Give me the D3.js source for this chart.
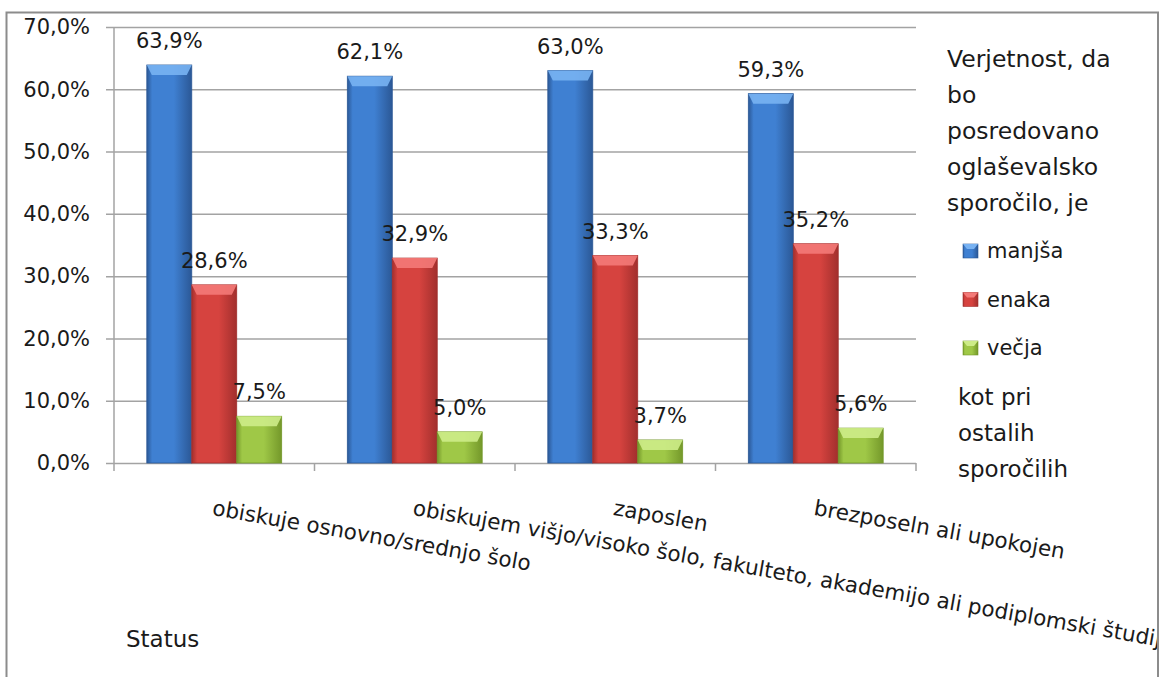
<!DOCTYPE html>
<html><head><meta charset="utf-8">
<script src="https://cdn.jsdelivr.net/npm/d3@7/dist/d3.min.js"></script>
<style>
html,body{margin:0;padding:0;background:#fff;}
svg{display:block;font-family:"DejaVu Sans",sans-serif;}
</style></head>
<body>
<svg id="chart" width="1165" height="677"></svg>
<script>
const categories = ["obiskuje osnovno/srednjo šolo", "obiskujem višjo/visoko šolo, fakulteto, akademijo ali podiplomski študij", "zaposlen", "brezposeln ali upokojen"];
const seriesNames = ["manjša", "enaka", "večja"];
const manjsa = [63.9, 62.1, 63.0, 59.3];
const enaka = [28.6, 32.9, 33.3, 35.2];
const vecja = [7.5, 5.0, 3.7, 5.6];
const yTicks = [0, 10, 20, 30, 40, 50, 60, 70];
const legendTitle = ["Verjetnost, da", "bo", "posredovano", "oglaševalsko", "sporočilo, je"];
const legendFooter = ["kot pri", "ostalih", "sporočilih"];
const axisTitle = "Status";

const seriesValues = [manjsa, enaka, vecja];
const palette = [
  {edge:"#2b5896", mid:"#3f80d2", bevel:"#78b2f2"},
  {edge:"#a22f2d", mid:"#d6433f", bevel:"#f47a78"},
  {edge:"#74982a", mid:"#9fc847", bevel:"#cdec88"}
];
const FONT = "DejaVu Sans, sans-serif";
const TXT = "#1a1a1a";

const svg = d3.select("#chart");
const fmt = v => d3.format(".1f")(v).replace(".", ",") + "%";
const pLeft = 114, pRight = 916, pTop = 27, pBottom = 463;

const x0 = d3.scaleBand().domain(categories).range([pLeft, pRight]).paddingInner(0).paddingOuter(0);
const x1 = d3.scaleBand().domain(seriesNames).range([0, x0.bandwidth()]).paddingInner(0).paddingOuter(0.73);
const y = d3.scaleLinear().domain([0, 70]).range([pBottom, pTop]);

const defs = svg.append("defs");
palette.forEach((p, i) => {
  const g = defs.append("linearGradient").attr("id", "g" + i).attr("x1", 0).attr("x2", 1).attr("y1", 0).attr("y2", 0);
  g.append("stop").attr("offset", "0%").attr("stop-color", p.edge);
  g.append("stop").attr("offset", "12%").attr("stop-color", p.mid);
  g.append("stop").attr("offset", "60%").attr("stop-color", p.mid);
  g.append("stop").attr("offset", "100%").attr("stop-color", p.edge);
});
defs.append("clipPath").attr("id", "frameClip").append("rect").attr("x", 7).attr("y", 12).attr("width", 1150).attr("height", 700);

// outer frame
svg.append("rect").attr("x", 6.5).attr("y", 12.5).attr("width", 1151.5).attr("height", 700)
  .attr("fill", "none").attr("stroke", "#8c8c8c").attr("stroke-width", 2);

// gridlines + y axis
const yAxis = d3.axisLeft(y).tickValues(yTicks).tickSize(pRight - pLeft + 8).tickFormat(fmt).tickPadding(16);
const gy = svg.append("g").attr("transform", `translate(${pRight},0)`).call(yAxis);
gy.select(".domain").remove();
gy.selectAll(".tick line").attr("stroke", "#a3a3a3").attr("stroke-width", 1.5);
gy.selectAll(".tick text").attr("font-size", 21).attr("fill", TXT).attr("font-family", FONT);
svg.append("line").attr("x1", pLeft).attr("x2", pLeft).attr("y1", pTop).attr("y2", pBottom).attr("stroke", "#a3a3a3").attr("stroke-width", 1.5);

// x axis ticks at band boundaries
const bounds = categories.map(c => x0(c)).concat([pRight]);
svg.append("g").selectAll("line").data(bounds).join("line")
  .attr("x1", d => d).attr("x2", d => d).attr("y1", pBottom).attr("y2", pBottom + 8)
  .attr("stroke", "#a3a3a3").attr("stroke-width", 1.5);

// bars
const bw = x1.bandwidth();
const groups = svg.append("g").selectAll("g").data(categories).join("g")
  .attr("transform", c => `translate(${x0(c)},0)`);
seriesNames.forEach((s, si) => {
  groups.each(function(c, ci) {
    const v = seriesValues[si][ci];
    const g = d3.select(this);
    const bx = x1(s), by = y(v), bh = y(0) - y(v);
    g.append("rect").attr("x", bx).attr("y", by).attr("width", bw).attr("height", bh)
      .attr("fill", `url(#g${si})`).attr("stroke", palette[si].edge).attr("stroke-width", 0.8);
    const b = 10, inset = 5;
    g.append("path")
      .attr("d", `M${bx},${by}L${bx + bw},${by}L${bx + bw - inset},${by + b}L${bx + inset},${by + b}Z`)
      .attr("fill", palette[si].bevel).attr("opacity", 0.9);
    g.append("text").attr("x", bx + bw / 2).attr("y", by - 17)
      .attr("text-anchor", "middle").attr("font-size", 21).attr("fill", TXT)
      .text(fmt(v));
  });
});

// category labels (rotated)
svg.append("g").attr("clip-path", "url(#frameClip)").selectAll("text").data(categories).join("text")
  .attr("transform", c => `translate(${x0(c) + x0.bandwidth() / 2},499) rotate(10)`)
  .attr("y", 16).attr("font-size", 21.5).attr("fill", TXT).text(c => c);

// axis title
svg.append("text").attr("x", 126).attr("y", 647).attr("font-size", 23).attr("fill", TXT).text(axisTitle);

// legend
const lg = svg.append("g");
lg.selectAll("text.t").data(legendTitle).join("text").attr("class", "t")
  .attr("x", 947).attr("y", (d, i) => 67 + i * 36).attr("font-size", 23.5).attr("fill", TXT).text(d => d);
const items = lg.selectAll("g.item").data(seriesNames).join("g").attr("class", "item")
  .attr("transform", (d, i) => `translate(963,${258 + i * 48.5})`);
items.append("rect").attr("x", 0).attr("y", -14).attr("width", 15).attr("height", 14)
  .attr("fill", (d, i) => `url(#g${i})`).attr("stroke", (d, i) => palette[i].edge).attr("stroke-width", 0.6);
items.append("path").attr("d", "M0,-14L15,-14L11,-9L4,-9Z").attr("fill", (d, i) => palette[i].bevel);
items.append("text").attr("x", 24).attr("y", 0).attr("font-size", 21).attr("fill", TXT).text(d => d);
lg.selectAll("text.f").data(legendFooter).join("text").attr("class", "f")
  .attr("x", 958).attr("y", (d, i) => 405 + i * 36).attr("font-size", 23).attr("fill", TXT).text(d => d);
</script>
</body></html>
